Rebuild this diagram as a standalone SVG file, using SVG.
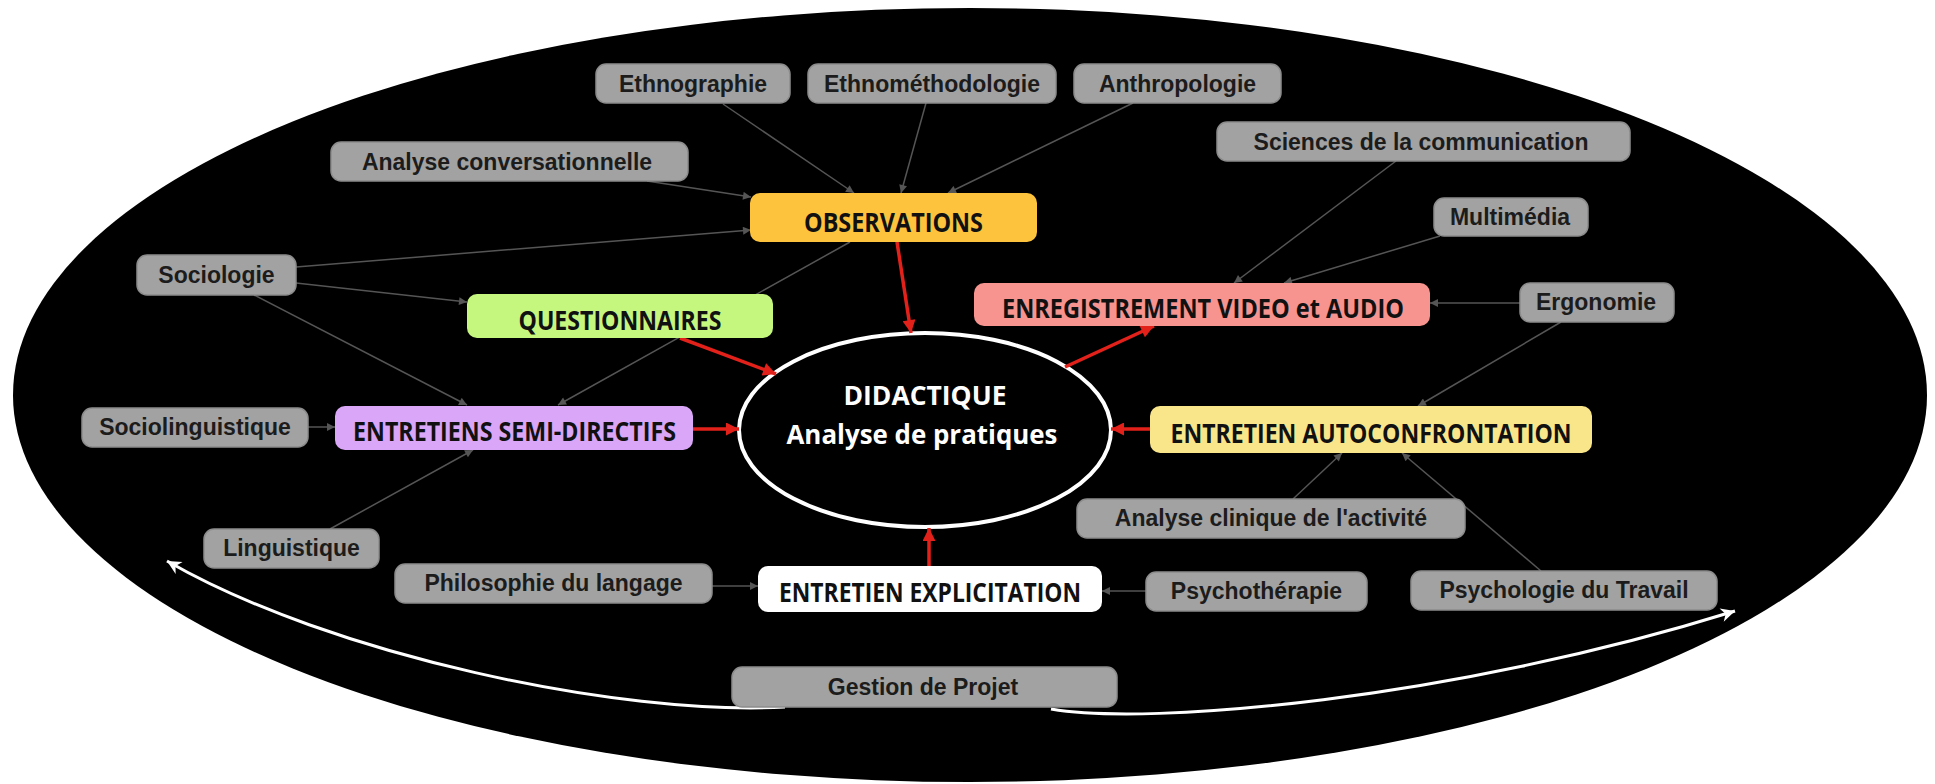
<svg xmlns="http://www.w3.org/2000/svg" width="1935" height="784" viewBox="0 0 1935 784">
<style>
.g rect{fill:#a2a2a2;stroke:#8c8c8c;stroke-width:1.5}
.g text{font-family:"Liberation Sans",Arial,sans-serif;font-weight:bold;font-size:23px;fill:#1c1c1c;text-anchor:middle}
.c rect{stroke:none}
.c text{font-family:"Open Sans","Liberation Sans",sans-serif;font-weight:700;font-size:26.5px;fill:#111;text-anchor:middle}
.cn line{stroke:#555;stroke-width:1.5;marker-end:url(#ga)}
.rd line{stroke:#e3211b;stroke-width:3.5;marker-end:url(#ra)}
.wt path{fill:none;stroke:#fff;stroke-width:3;marker-end:url(#wa)}
.dt{font-family:"Open Sans","Liberation Sans",sans-serif;font-weight:700;font-size:26px;fill:#fff;text-anchor:middle}
</style>
<defs>
<marker id="ga" viewBox="0 0 10 10" refX="10" refY="5" markerWidth="10" markerHeight="8" markerUnits="userSpaceOnUse" orient="auto"><path d="M0,0 L10,5 L0,10 z" fill="#555"/></marker>
<marker id="ra" viewBox="0 0 10 10" refX="10" refY="5" markerWidth="16" markerHeight="13" markerUnits="userSpaceOnUse" orient="auto"><path d="M0,0 L10,5 L0,10 z" fill="#e3211b"/></marker>
<marker id="wa" viewBox="0 0 10 10" refX="10" refY="5" markerWidth="20" markerHeight="14" markerUnits="userSpaceOnUse" orient="auto"><path d="M0,0 L10,5 L0,10 L3,5 z" fill="#fff"/></marker>
</defs>
<rect width="1935" height="784" fill="#fff"/>
<ellipse cx="970" cy="395" rx="957" ry="387" fill="#000"/>

<g id="didactique">
<ellipse cx="925" cy="430" rx="186" ry="97" fill="#000" stroke="#fff" stroke-width="4"/>
<text class="dt" x="925" y="405" textLength="163" lengthAdjust="spacingAndGlyphs">DIDACTIQUE</text>
<text class="dt" x="922" y="444" textLength="271" lengthAdjust="spacingAndGlyphs">Analyse de pratiques</text>
</g>

<g id="connectors">
<g class="cn">
<line x1="723" y1="104" x2="854" y2="193"/>
<line x1="926" y1="103" x2="901" y2="193"/>
<line x1="1133" y1="103" x2="948" y2="193"/>
<line x1="647" y1="181" x2="751" y2="197"/>
<line x1="296" y1="267" x2="751" y2="230"/>
<line x1="296" y1="283" x2="467" y2="302"/>
<line x1="254" y1="295" x2="467" y2="405"/>
<line x1="850" y1="242" x2="558" y2="405"/>
<line x1="308" y1="427" x2="335" y2="427"/>
<line x1="330" y1="529" x2="473" y2="450"/>
<line x1="712" y1="586" x2="758" y2="586"/>
<line x1="1146" y1="591" x2="1102" y2="591"/>
<line x1="1396" y1="161" x2="1234" y2="283"/>
<line x1="1440" y1="236" x2="1284" y2="283"/>
<line x1="1520" y1="303" x2="1430" y2="303"/>
<line x1="1561" y1="322" x2="1418" y2="406"/>
<line x1="1293" y1="499" x2="1342" y2="453"/>
<line x1="1541" y1="571" x2="1402" y2="453"/>
</g>
<g class="rd">
<line x1="897" y1="242" x2="911" y2="333"/>
<line x1="680" y1="338" x2="776" y2="374"/>
<line x1="1065" y1="367" x2="1154" y2="326"/>
<line x1="693" y1="429" x2="739" y2="429"/>
<line x1="1150" y1="429" x2="1111" y2="429"/>
<line x1="929" y1="566" x2="929" y2="528"/>
</g>
<g class="wt">
<path d="M785,707 C620,716 330,655 167,561"/>
<path d="M1051,709 C1150,726 1450,700 1735,611"/>
</g>
</g>

<g id="ethnographie" class="g"><rect x="596" y="64" width="194" height="39" rx="10"/><text x="693" y="91.5">Ethnographie</text></g>
<g id="ethnomethodologie" class="g"><rect x="808" y="64" width="248" height="39" rx="10"/><text x="932" y="91.5">Ethnométhodologie</text></g>
<g id="anthropologie" class="g"><rect x="1074" y="64" width="207" height="39" rx="10"/><text x="1177.5" y="91.5">Anthropologie</text></g>
<g id="analyse-conversationnelle" class="g"><rect x="331" y="142" width="357" height="39" rx="10"/><text x="507" y="169.5">Analyse conversationnelle</text></g>
<g id="sciences-communication" class="g"><rect x="1217" y="122" width="413" height="39" rx="10"/><text x="1421" y="149.5">Sciences de la communication</text></g>
<g id="multimedia" class="g"><rect x="1434" y="198" width="154" height="38" rx="10"/><text x="1510" y="225">Multimédia</text></g>
<g id="sociologie" class="g"><rect x="137" y="255" width="159" height="40" rx="10"/><text x="216.5" y="283">Sociologie</text></g>
<g id="ergonomie" class="g"><rect x="1520" y="283" width="154" height="39" rx="10"/><text x="1596" y="310">Ergonomie</text></g>
<g id="sociolinguistique" class="g"><rect x="82" y="408" width="226" height="39" rx="10"/><text x="195" y="435">Sociolinguistique</text></g>
<g id="analyse-clinique" class="g"><rect x="1077" y="499" width="388" height="39" rx="10"/><text x="1271" y="526">Analyse clinique de l'activité</text></g>
<g id="linguistique" class="g"><rect x="204" y="529" width="175" height="39" rx="10"/><text x="291.5" y="556">Linguistique</text></g>
<g id="philosophie-langage" class="g"><rect x="395" y="564" width="317" height="39" rx="10"/><text x="553.5" y="591">Philosophie du langage</text></g>
<g id="psychotherapie" class="g"><rect x="1146" y="572" width="221" height="39" rx="10"/><text x="1256.5" y="599">Psychothérapie</text></g>
<g id="psychologie-travail" class="g"><rect x="1411" y="571" width="306" height="39" rx="10"/><text x="1564" y="598">Psychologie du Travail</text></g>
<g id="gestion-projet" class="g"><rect x="732" y="667" width="385" height="40" rx="10"/><text x="923" y="695">Gestion de Projet</text></g>

<g id="observations" class="c"><rect x="750" y="193" width="287" height="49" rx="10" fill="#fdc33d"/><text x="893.5" y="232" textLength="179" lengthAdjust="spacingAndGlyphs">OBSERVATIONS</text></g>
<g id="questionnaires" class="c"><rect x="467" y="294" width="306" height="44" rx="10" fill="#c5f77f"/><text x="620" y="330" textLength="203" lengthAdjust="spacingAndGlyphs">QUESTIONNAIRES</text></g>
<g id="enregistrement" class="c"><rect x="974" y="283" width="456" height="43" rx="10" fill="#f8948f"/><text x="1203" y="318" textLength="402" lengthAdjust="spacingAndGlyphs">ENREGISTREMENT VIDEO et AUDIO</text></g>
<g id="entretiens-semi-directifs" class="c"><rect x="335" y="406" width="358" height="44" rx="10" fill="#d9a6f8"/><text x="514.5" y="441" textLength="323" lengthAdjust="spacingAndGlyphs">ENTRETIENS SEMI-DIRECTIFS</text></g>
<g id="entretien-autoconfrontation" class="c"><rect x="1150" y="406" width="442" height="47" rx="10" fill="#fae68a"/><text x="1371" y="443" textLength="401" lengthAdjust="spacingAndGlyphs">ENTRETIEN AUTOCONFRONTATION</text></g>
<g id="entretien-explicitation" class="c"><rect x="758" y="566" width="344" height="46" rx="10" fill="#fff"/><text x="930" y="602" textLength="302" lengthAdjust="spacingAndGlyphs">ENTRETIEN EXPLICITATION</text></g>
</svg>
